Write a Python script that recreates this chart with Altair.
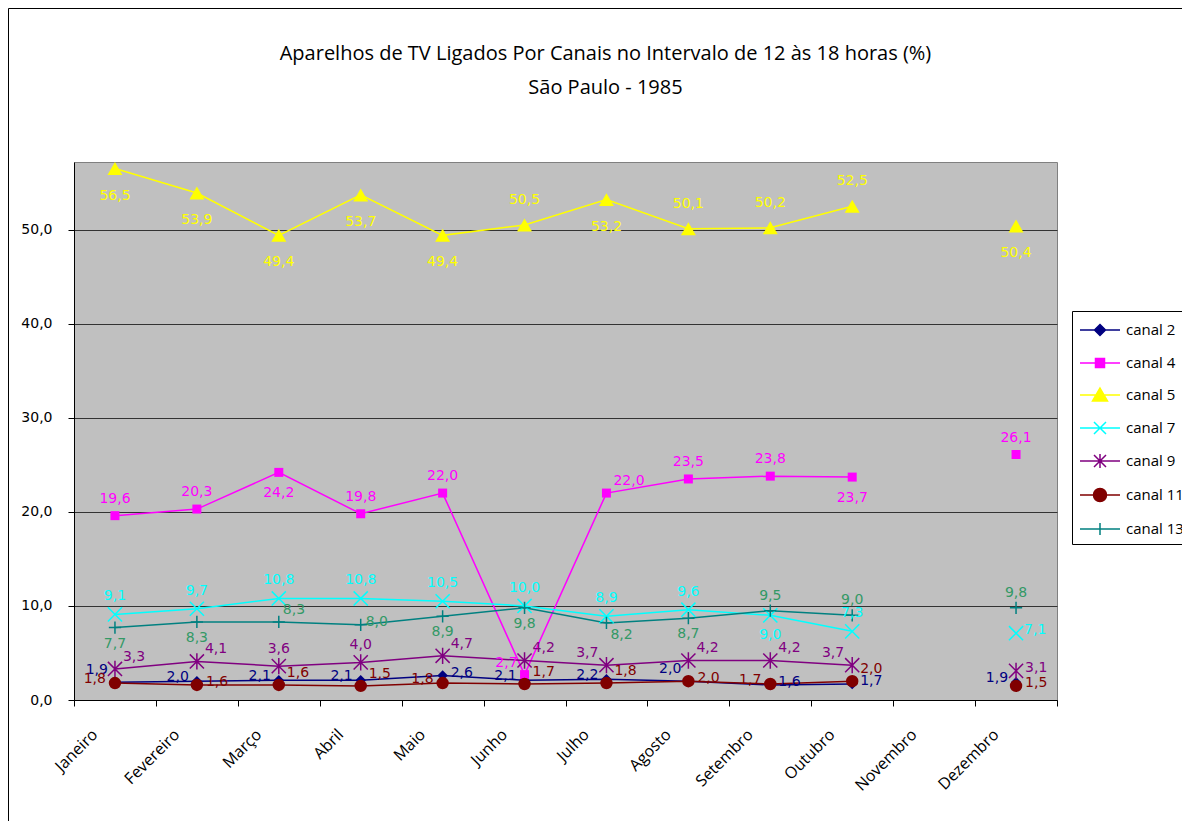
import altair as alt
import pandas as pd

# ---------------- data ----------------
months = ["Janeiro", "Fevereiro", "Março", "Abril", "Maio", "Junho",
          "Julho", "Agosto", "Setembro", "Outubro", "Novembro", "Dezembro"]
series = ["canal 2", "canal 4", "canal 5", "canal 7", "canal 9", "canal 11", "canal 13"]

canal2 = [1.9, 2.0, 2.1, 2.1, 2.6, 2.1, 2.2, 2.0, 1.6, 1.7, None, 1.9]
canal4 = [19.6, 20.3, 24.2, 19.8, 22.0, 2.7, 22.0, 23.5, 23.8, 23.7, None, 26.1]
canal5 = [56.5, 53.9, 49.4, 53.7, 49.4, 50.5, 53.2, 50.1, 50.2, 52.5, None, 50.4]
canal7 = [9.1, 9.7, 10.8, 10.8, 10.5, 10.0, 8.9, 9.6, 9.0, 7.3, None, 7.1]
canal9 = [3.3, 4.1, 3.6, 4.0, 4.7, 4.2, 3.7, 4.2, 4.2, 3.7, None, 3.1]
canal11 = [1.8, 1.6, 1.6, 1.5, 1.8, 1.7, 1.8, 2.0, 1.7, 2.0, None, 1.5]
canal13 = [7.7, 8.3, 8.3, 8.0, 8.9, 9.8, 8.2, 8.7, 9.5, 9.0, None, 9.8]

y_ticks = [0, 10, 20, 30, 40, 50]

title_lines = ["Aparelhos de TV Ligados Por Canais no Intervalo de 12 às 18 horas (%)",
               "São Paulo - 1985"]

# ---------------- label placement (layout only) ----------------
place2 = ["al", "l", "l", "l", "r", "l", "l", "al", "r", "r", None, "l"]
place4 = ["a", "a", "b", "a", "a", "al", "ar", "a", "a", "b", None, "a"]
place5 = ["b", "b", "b", "b", "b", "a", "b", "a", "a", "a", None, "b"]
place7 = ["a", "a", "a", "a", "a", "a", "a", "a", "b", "a", None, "r"]
place9 = ["ar", "ar", "a", "a", "ar", "ar", "al", "ar", "ar", "al", None, "r"]
place11 = ["l", "r", "ar", "ar", "l", "ar", "ar", "r", "l", "ar", None, "r"]
place13 = ["b", "b", "ar", "r", "b", "b", "br", "b", "a", "a", None, "a"]

values_by_series = [canal2, canal4, canal5, canal7, canal9, canal11, canal13]
place_by_series = [place2, place4, place5, place7, place9, place11, place13]

# ---------------- styles ----------------
colors = ["#000080", "#FF00FF", "#FFFF00", "#00FFFF", "#800080", "#800000", "#008080"]
label_colors = ["#000080", "#FF00FF", "#FFFF00", "#00FFFF", "#800080", "#800000", "#339966"]
X_PATH = "M-1,-1L1,1M-1,1L1,-1"
AST_PATH = "M-1,-1L1,1M-1,1L1,-1M0,-1.15L0,1.15"
PLUS_PATH = "M-1,0L1,0M0,-1L0,1"
point_shapes = ["diamond", "square", "triangle-up", X_PATH, AST_PATH, "circle", PLUS_PATH]
point_filled = [True, True, True, False, False, True, False]
point_sizes = [110, 81, 225, 200, 200, 154, 150]
# label gaps per series: above, below, side
gaps = [(15, 15, 8), (17, 21, 8), (25, 27, 10), (18, 20, 8), (17, 17, 9), (15, 15, 9), (15, 16, 5)]

FONT = "Open Sans"
NUMFONT = "DejaVu Sans"

rows = []
for s, vals, pl in zip(series, values_by_series, place_by_series):
    for m, v, p in zip(months, vals, pl):
        rows.append({"series": s, "month": m, "value": v, "pos": p})
df = pd.DataFrame(rows)

# ---------------- encodings ----------------
xscale = alt.Scale(type="band", domain=months, paddingInner=0, paddingOuter=0)
yscale = alt.Scale(domain=[0, 57.2], nice=False, zero=True)

xaxis = alt.Axis(labelAngle=-45, labelAlign="right", labelBaseline="top",
                 labelFont=FONT, labelFontSize=16, labelColor="black",
                 labelOffset=-26, labelPadding=20, tickBand="extent",
                 tickSize=6, tickColor="black", domainColor="black",
                 grid=False, title=None)
yaxis = alt.Axis(values=y_ticks, labelExpr="replace(format(datum.value, '.1f'), '.', ',')",
                 labelFont=NUMFONT, labelFontSize=14, labelColor="black",
                 labelPadding=16, tickSize=6, tickColor="black", domainColor="black",
                 grid=True, gridColor="#333333", gridWidth=1, title=None)

X = alt.X("month:N", sort=months, scale=xscale, axis=xaxis, bandPosition=0.5)
Y = alt.Y("value:Q", scale=yscale, axis=yaxis)

base = alt.Chart(df).transform_calculate(
    label="replace(format(datum.value, '.1f'), '.', ',')"
)

layers = []

# frame around the whole figure
frame = alt.Chart(pd.DataFrame({"k": [0]})).mark_rect(
    fill="transparent", stroke="black", strokeWidth=1
).encode(x=alt.value(-65.5), x2=alt.value(1300), y=alt.value(-153.5), y2=alt.value(900))
layers.append(frame)

# lines
for s, c in zip(series, colors):
    layers.append(
        base.transform_filter(alt.datum.series == s)
        .mark_line(color=c, strokeWidth=1.5, invalid="break-paths-show-domains")
        .encode(x=X, y=Y)
    )

# markers
for s, c, sh, f, sz in zip(series, colors, point_shapes, point_filled, point_sizes):
    if f:
        mk = dict(shape=sh, filled=True, color=c, size=sz, opacity=1)
    else:
        mk = dict(shape=sh, filled=False, color=c, size=sz, opacity=1, strokeWidth=1.5)
    layers.append(base.transform_filter(alt.datum.series == s).mark_point(**mk).encode(x=X, y=Y))

# data labels
for s, lc, (ga, gb, gs), pl in zip(series, label_colors, gaps, place_by_series):
    offsets = {
        "a": (0, -ga, "center"),
        "b": (0, gb, "center"),
        "l": (-gs, -4, "right"),
        "r": (gs, -3, "left"),
        "al": (-gs + 1, -12, "right"),
        "ar": (gs - 1, -12, "left"),
        "br": (gs - 1, 12, "left"),
    }
    for code in sorted(set(p for p in pl if p)):
        dx, dy, al = offsets[code]
        layers.append(
            base.transform_filter((alt.datum.series == s) & (alt.datum.pos == code))
            .mark_text(dx=dx, dy=dy, align=al, baseline="middle", font=NUMFONT,
                       fontSize=14, color=lc)
            .encode(x=X, y=Y, text="label:N")
        )

# legend (line + marker symbols)
def legend_path(kind, shift=9.0, unit=12.0):
    def p(x, y):
        return f"{(x + shift) / unit:.3f},{y / unit:.3f}"
    out = f"M{p(-20, 0)}L{p(20, 0)}"
    if kind == "diamond":
        out += f"M{p(0, -5.5)}L{p(5.5, 0)}L{p(0, 5.5)}L{p(-5.5, 0)}Z"
    elif kind == "square":
        out += f"M{p(-4.5, -4.5)}L{p(4.5, -4.5)}L{p(4.5, 4.5)}L{p(-4.5, 4.5)}Z"
    elif kind == "triangle":
        out += f"M{p(0, -7)}L{p(7.5, 6)}L{p(-7.5, 6)}Z"
    elif kind == "x":
        out += f"M{p(-6, -6)}L{p(6, 6)}M{p(-6, 6)}L{p(6, -6)}"
    elif kind == "asterisk":
        out += f"M{p(-6, -6)}L{p(6, 6)}M{p(-6, 6)}L{p(6, -6)}M{p(0, -7)}L{p(0, 7)}"
    elif kind == "circle":
        r = 6.5 / unit
        out += f"M{p(-6.5, 0)}A{r:.3f},{r:.3f} 0 1,0 {p(6.5, 0)}A{r:.3f},{r:.3f} 0 1,0 {p(-6.5, 0)}Z"
    elif kind == "plus":
        out += f"M{p(-6, 0)}L{p(6, 0)}M{p(0, -6)}L{p(0, 6)}"
    return out

legend_kinds = ["diamond", "square", "triangle", "x", "asterisk", "circle", "plus"]
legend_paths = [legend_path(k) for k in legend_kinds]

leg = alt.Legend(title=None, orient="none", legendX=998, legendY=149,
                 symbolSize=576, symbolStrokeWidth=1.5, symbolOpacity=1,
                 labelFont=FONT, labelFontSize=15, labelColor="black",
                 labelOffset=22, rowPadding=11, padding=6,
                 strokeColor="black", fillColor="white", cornerRadius=0)

legend_layer = base.mark_point(opacity=0, filled=True, size=576, strokeWidth=1.5).encode(
    x=X, y=Y,
    shape=alt.Shape("series:N", scale=alt.Scale(domain=series, range=legend_paths), legend=leg),
    stroke=alt.Stroke("series:N", scale=alt.Scale(domain=series, range=colors), legend=leg),
    fill=alt.Fill("series:N", scale=alt.Scale(domain=series, range=colors), legend=leg),
)
layers.append(legend_layer)

chart = alt.layer(*layers).properties(
    width=983, height=538,
    padding={"left": 66, "top": 154, "right": 125, "bottom": 121},
    autosize=alt.AutoSizeParams(type="none"),
    background="white",
    title=alt.TitleParams(text=title_lines, font=FONT, fontSize=20, fontWeight="normal",
                          color="black", anchor="middle", dx=40, offset=-90, lineHeight=34),
).configure_view(fill="#C0C0C0", stroke="#808080", strokeWidth=1)

chart.save("out.html", embed_options={"renderer": "svg", "actions": False})
